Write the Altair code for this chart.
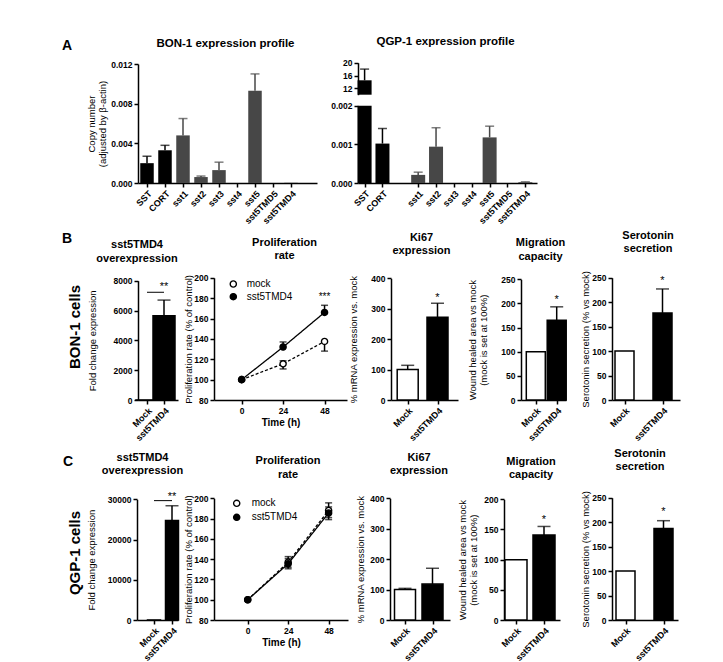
import altair as alt
import pandas as pd

# ------------------------------------------------------------------ data
A_CATS = ["SST", "CORT", "sst1", "sst2", "sst3", "sst4", "sst5", "sst5TMD5", "sst5TMD4"]
A_KIND = ["ligand", "ligand", "receptor", "receptor", "receptor", "receptor", "receptor", "receptor", "receptor"]
BON_MEAN = [0.0020, 0.0033, 0.0048, 0.0006, 0.0013, 0.0, 0.0093, 0.0, 0.00002]
BON_TOP = [0.0027, 0.0038, 0.0065, 0.0007, 0.0021, 0.0, 0.0110, 0.0, 0.00002]
QGP_MEAN = [14.5, 0.00102, 0.00021, 0.00094, 0.0, 0.0, 0.00118, 0.0, 0.00002]
QGP_TOP = [18.0, 0.00141, 0.00028, 0.00143, 0.0, 0.0, 0.00147, 0.0, 0.00003]
BON_TICKS = [0.0, 0.004, 0.008, 0.012]
QGP_TICKS_LOW = [0.0, 0.001, 0.002]
QGP_TICKS_HIGH = [12, 16, 20]

GROUPS = ["Mock", "sst5TMD4"]
B_OVER_MEAN, B_OVER_TOP = [1, 5650], [1, 6700]
C_OVER_MEAN, C_OVER_TOP = [1, 24700], [1, 28400]
B_KI67_MEAN, B_KI67_TOP = [100, 272], [114, 318]
C_KI67_MEAN, C_KI67_TOP = [100, 118], [104, 170]
B_MIG_MEAN, B_MIG_TOP = [100, 165], [100, 193]
C_MIG_MEAN, C_MIG_TOP = [100, 141], [100, 155]
B_SER_MEAN, B_SER_TOP = [100, 178], [100, 227]
C_SER_MEAN, C_SER_TOP = [100, 187], [100, 203]

TIME = [0, 24, 48]
SERIES = ["mock", "sst5TMD4"]
B_MOCK, B_MOCK_ELO, B_MOCK_EHI = [100, 115.5, 137.5], [0, 5, 9.5], [0, 3, 0]
B_TMD4, B_TMD4_ELO, B_TMD4_EHI = [100, 132, 166], [0, 0, 0], [0, 5, 7]
C_MOCK, C_MOCK_ELO, C_MOCK_EHI = [100, 137, 188], [0, 5, 7], [0, 5.5, 7.5]
C_TMD4, C_TMD4_ELO, C_TMD4_EHI = [100, 135.5, 185.5], [0, 5, 6.5], [0, 5, 6]

FONT = "Liberation Sans"
LW = 1.5
XLAB = 9
SERIES_FILL = ["white", "black"]


def point_scale(domain, W, c0, step):
    n = len(domain)
    pad = (W / step - (n - 1)) / 2
    align = c0 / (W - step * (n - 1))
    return alt.Scale(type="point", domain=domain, padding=pad, align=align)


def spacer(w, h, top_ext=0, bot_ext=1, texts=()):
    base = alt.Chart(pd.DataFrame({"k": [0]}))
    layers = [base.mark_rule(color="white", strokeWidth=1).encode(
        x=alt.value(0.5), y=alt.value(-top_ext), y2=alt.value(bot_ext))]
    for txt, x, y, size, angle, bl in texts:
        layers.append(base.mark_text(text=txt, fontSize=size, fontWeight="bold", angle=angle,
                                     align="center", baseline=bl, color="black", font=FONT)
                      .encode(x=alt.value(x), y=alt.value(y)))
    return alt.layer(*layers).properties(width=w, height=h)


def title_params(lines, dx, offset, size=11):
    return alt.TitleParams(text=lines, fontSize=size, fontWeight="bold", anchor="middle",
                           dx=dx, offset=offset, lineHeight=13.3, font=FONT, color="black")


def bar_panel(title, tdx, toff, means, tops, W, H, ytop, c0, step, bw, ydom, yvals,
              ytitle, tpad, star=None, bracket=None, yfmt="d", cap=13):
    df = pd.DataFrame({"g": GROUPS, "v": means, "e": tops})
    xs = point_scale(GROUPS, W, c0, step)
    xax = alt.Axis(title=None, labelAngle=-45, labelOverlap=False, labelFontSize=XLAB)
    ys = alt.Scale(domain=ydom, range=[H, ytop], nice=False, zero=True)
    yax = alt.Axis(values=yvals, title=ytitle, titlePadding=tpad, format=yfmt, labelOverlap=False)
    x = alt.X("g:N", scale=xs, axis=xax)
    base = alt.Chart(df)
    layers = [
        base.mark_bar(size=bw, stroke="black", strokeWidth=LW).encode(
            x=x, y=alt.Y("v:Q", scale=ys, axis=yax),
            fill=alt.Fill("g:N", scale=alt.Scale(domain=GROUPS, range=["white", "black"]), legend=None)),
        base.transform_filter("datum.e > datum.v").mark_rule(color="black", strokeWidth=LW).encode(
            x=x, y=alt.Y("v:Q", scale=ys, axis=yax), y2="e:Q"),
        base.transform_filter("datum.e > datum.v").mark_tick(color="black", size=cap, thickness=LW,
                                                               orient="horizontal").encode(
            x=x, y=alt.Y("e:Q", scale=ys, axis=yax)),
    ]
    if bracket is not None:
        bdf = pd.DataFrame({"g": [GROUPS[0]], "g2": [GROUPS[1]], "v": [bracket]})
        layers.append(alt.Chart(bdf).mark_rule(color="black", strokeWidth=1).encode(
            x=x, x2="g2:N", y=alt.Y("v:Q", scale=ys, axis=yax)))
    if star is not None:
        sdf = pd.DataFrame({"g": [GROUPS[1]], "v": [star[1]], "t": [star[0]]})
        layers.append(alt.Chart(sdf).mark_text(fontSize=11, color="black", baseline="middle", font=FONT).encode(
            x=x, y=alt.Y("v:Q", scale=ys, axis=yax), text="t:N"))
    return alt.layer(*layers).properties(width=W, height=H, title=title_params(title, tdx, toff))


def prolif_panel(title, tdx, toff, mock, mlo, mhi, tmd, tlo, thi, W, H, ytop, xdom, star_y,
                 leg, tpad):
    rows = []
    for s, mean, lo, hi in ((SERIES[0], mock, mlo, mhi), (SERIES[1], tmd, tlo, thi)):
        for t, m, a, b in zip(TIME, mean, lo, hi):
            rows.append({"t": t, "s": s, "d": s, "m": m, "lo": m - a, "hi": m + b})
    df = pd.DataFrame(rows)
    xs = alt.Scale(domain=xdom, nice=False, zero=False)
    xax = alt.Axis(values=TIME, title="Time (h)", titleFontWeight="bold", titleFontSize=10,
                   titlePadding=3, labelOverlap=False, labelFlush=False)
    ys = alt.Scale(domain=[80, 200], range=[H, ytop], nice=False, zero=False)
    yax = alt.Axis(values=list(range(80, 201, 20)), title="Proliferation rate (% of control)",
                   titlePadding=tpad, labelOverlap=False)
    x = alt.X("t:Q", scale=xs, axis=xax)
    base = alt.Chart(df)
    dash = alt.StrokeDash("d:N", scale=alt.Scale(domain=SERIES, range=[[3, 2], [1, 0]]), legend=None)
    layers = [
        base.mark_line(color="black", strokeWidth=1.3).encode(x=x, y=alt.Y("m:Q", scale=ys, axis=yax),
                                                              strokeDash=dash),
        base.transform_filter("datum.hi > datum.lo").mark_rule(color="black", strokeWidth=LW).encode(
            x=x, y=alt.Y("lo:Q", scale=ys, axis=yax), y2="hi:Q"),
        base.transform_filter("datum.hi > datum.m").mark_tick(color="black", size=7, thickness=LW,
                                                                orient="horizontal").encode(
            x=x, y=alt.Y("hi:Q", scale=ys, axis=yax)),
        base.transform_filter("datum.lo < datum.m").mark_tick(color="black", size=7, thickness=LW,
                                                                orient="horizontal").encode(
            x=x, y=alt.Y("lo:Q", scale=ys, axis=yax)),
        base.mark_point(shape="circle", filled=True, size=38, stroke="black", strokeWidth=1.4,
                        opacity=1).encode(
            x=x, y=alt.Y("m:Q", scale=ys, axis=yax),
            fill=alt.Fill("s:N", scale=alt.Scale(domain=SERIES, range=SERIES_FILL), legend=None)),
    ]
    if star_y is not None:
        sdf = pd.DataFrame({"t": [TIME[-1]], "v": [star_y], "txt": ["***"]})
        layers.append(alt.Chart(sdf).mark_text(fontSize=10, color="black", baseline="middle", font=FONT).encode(
            x=x, y=alt.Y("v:Q", scale=ys, axis=yax), text="txt:N"))
    # legend (symbol + label for each series)
    sx, sy0, dy, tx = leg
    lbase = alt.Chart(pd.DataFrame({"k": [0]}))
    for i, (name, col) in enumerate(zip(SERIES, SERIES_FILL)):
        layers.append(lbase.mark_point(shape="circle", filled=True, size=38, stroke="black",
                                       strokeWidth=1.4, fill=col, opacity=1).encode(
            x=alt.value(sx), y=alt.value(sy0 + i * dy)))
        layers.append(lbase.mark_text(text=name, fontSize=10, align="left", baseline="middle",
                                      color="black", font=FONT).encode(
            x=alt.value(tx), y=alt.value(sy0 + i * dy)))
    return alt.layer(*layers).properties(width=W, height=H, title=title_params(title, tdx, toff))


def row(*charts):
    return alt.hconcat(*charts, spacing=0, bounds="flush").resolve_scale(
        fill="independent", strokeDash="independent", color="independent")


# ------------------------------------------------------------------ row A
A_H = 121
bon_df = pd.DataFrame({"c": A_CATS, "k": A_KIND, "v": BON_MEAN, "e": BON_TOP})
kind_fill = alt.Color("k:N", scale=alt.Scale(domain=["ligand", "receptor"], range=["#000000", "#474747"]),
                      legend=None)
a_xax = alt.Axis(title=None, labelAngle=-45, labelOverlap=False, labelFontSize=XLAB)
bon_x = alt.X("c:N", scale=point_scale(A_CATS, 179, 9, 18), axis=a_xax)
bon_ys = alt.Scale(domain=[0, 0.012], range=[A_H, 2], nice=False)
bon_yax = alt.Axis(values=BON_TICKS, format=".3f", title=["Copy number", "(adjusted by β-actin)"],
                   titlePadding=3, titleLineHeight=11.6, labelOverlap=False)
bon_base = alt.Chart(bon_df)
bon = alt.layer(
    bon_base.mark_bar(size=13.5).encode(x=bon_x, y=alt.Y("v:Q", scale=bon_ys, axis=bon_yax), color=kind_fill),
    bon_base.transform_filter("datum.e > datum.v").mark_rule(strokeWidth=LW).encode(
        x=bon_x, y=alt.Y("v:Q", scale=bon_ys, axis=bon_yax), y2="e:Q", color=kind_fill),
    bon_base.transform_filter("datum.e > datum.v").mark_tick(size=9, thickness=LW, orient="horizontal").encode(
        x=bon_x, y=alt.Y("e:Q", scale=bon_ys, axis=bon_yax), color=kind_fill),
).properties(width=179, height=A_H,
             title=title_params("BON-1 expression profile", -2, 10.3, size=11.5))

QGP_DOMAIN = ["SST", "CORT", " "] + A_CATS[2:]
qgp_df = pd.DataFrame({"c": A_CATS, "k": A_KIND, "v": QGP_MEAN, "e": QGP_TOP})
qgp_x = alt.X("c:N", scale=point_scale(QGP_DOMAIN, 179, 6.6, 17.86),
              axis=alt.Axis(title=None, labelAngle=-45, labelOverlap=False, values=A_CATS,
                            labelFontSize=XLAB))
hi_ys = alt.Scale(domain=[10, 20], range=[32.7, 0.7], nice=False, zero=False, clamp=True)
hi_yax = alt.Axis(values=QGP_TICKS_HIGH, format="d", title=None, orient="left", labelOverlap=False)
lo_ys = alt.Scale(domain=[0, 0.002], range=[A_H, 43.7], nice=False, clamp=True)
lo_yax = alt.Axis(values=QGP_TICKS_LOW, format=".3f", title=None, orient="left", labelOverlap=False)
qgp_base = alt.Chart(qgp_df)
qgp_high = alt.layer(
    qgp_base.transform_filter("datum.v > 10").mark_bar(size=14).encode(
        x=qgp_x, y=alt.Y("v:Q", scale=hi_ys, axis=hi_yax), color=kind_fill),
    qgp_base.transform_filter("datum.v > 10").mark_rule(strokeWidth=LW).encode(
        x=qgp_x, y=alt.Y("v:Q", scale=hi_ys, axis=hi_yax), y2="e:Q", color=kind_fill),
    qgp_base.transform_filter("datum.v > 10").mark_tick(size=9, thickness=LW, orient="horizontal").encode(
        x=qgp_x, y=alt.Y("e:Q", scale=hi_ys, axis=hi_yax), color=kind_fill),
)
qgp_low = alt.layer(
    qgp_base.mark_bar(size=14).encode(x=qgp_x, y=alt.Y("v:Q", scale=lo_ys, axis=lo_yax), color=kind_fill),
    qgp_base.transform_filter("datum.e > datum.v && datum.e < 1").mark_rule(strokeWidth=LW).encode(
        x=qgp_x, y=alt.Y("v:Q", scale=lo_ys, axis=lo_yax), y2="e:Q", color=kind_fill),
    qgp_base.transform_filter("datum.e > datum.v && datum.e < 1").mark_tick(
        size=9, thickness=LW, orient="horizontal").encode(
        x=qgp_x, y=alt.Y("e:Q", scale=lo_ys, axis=lo_yax), color=kind_fill),
)
qgp = alt.layer(qgp_high, qgp_low).resolve_scale(y="independent").properties(
    width=179, height=A_H, title=title_params("QGP-1 expression profile", -2, 11.3, size=11.5))

ROW_A = row(
    spacer(130, A_H, 53, 166, [("A", 59, -12.3, 14, 0, "alphabetic")]),
    bon, spacer(41, A_H), qgp)

# ------------------------------------------------------------------ row B
H = 123
ROW_B = row(
    spacer(130, H, 46, 170, [("B", 59, -34, 14, 0, "alphabetic"), ("BON-1 cells", 67, 50, 15, 270, "middle")]),
    bar_panel(["sst5TMD4", "overexpression"], -21, 13, B_OVER_MEAN, B_OVER_TOP, 40, H, 3.7, 9, 17, 22,
              [0, 8000], [0, 2000, 4000, 6000, 8000], "Fold change expression", 16,
              star=("**", 7557), bracket=7224),
    spacer(36, H),
    prolif_panel(["Proliferation", "rate"], 4, 12.7, B_MOCK, B_MOCK_ELO, B_MOCK_EHI, B_TMD4, B_TMD4_ELO,
                 B_TMD4_EHI, 133, H, 0.8, [-16, 61], 181, (19.3, 7, 12.7, 32.7), 0),
    spacer(44, H),
    bar_panel(["Ki67", "expression"], -3, 18, B_KI67_MEAN, B_KI67_TOP, 67, H, 1.3, 16.7, 29.8, 21,
              [0, 400], [0, 100, 200, 300, 400], "% mRNA expression vs. mock", 12, star=("*", 334)),
    spacer(63, H),
    bar_panel(["Migration", "capacity"], -3, 13.7, B_MIG_MEAN, B_MIG_TOP, 45, H, 2.3, 14.8, 20.9, 19,
              [0, 250], [0, 50, 100, 150, 200, 250], ["Wound healed area vs mock", "(mock is set at 100%)"],
              12, star=("*", 207)),
    spacer(46, H),
    bar_panel(["Serotonin", "secretion"], 2, 16.4, B_SER_MEAN, B_SER_TOP, 68, H, 0.7, 12.5, 38, 19,
              [0, 250], [0, 50, 100, 150, 200, 250], "Serotonin secretion (% vs mock)", 1, star=("*", 244)),
    spacer(30, H))

# ------------------------------------------------------------------ row C
ROW_C = row(
    spacer(129, H, 45, 150, [("C", 60, -31, 14, 0, "alphabetic"), ("QGP-1 cells", 67, 56, 15, 270, "middle")]),
    bar_panel(["sst5TMD4", "overexpression"], -15, 14.7, C_OVER_MEAN, C_OVER_TOP, 41, H, 2.3, 17, 18, 13,
              [0, 30000], [0, 10000, 20000, 30000], "Fold change expression", 11,
              star=("**", 30659), bracket=29670),
    spacer(36, H),
    prolif_panel(["Proliferation", "rate"], 7, 14.7, C_MOCK, C_MOCK_ELO, C_MOCK_EHI, C_TMD4, C_TMD4_ELO,
                 C_TMD4_EHI, 134, H, 1.3, [-20, 59.5], None, (22.7, 6.3, 14, 37.7), 0),
    spacer(42, H),
    bar_panel(["Ki67", "expression"], -1, 18, C_KI67_MEAN, C_KI67_TOP, 60, H, 1.3, 15, 27.5, 21,
              [0, 400], [0, 100, 200, 300, 400], "% mRNA expression vs. mock", 4),
    spacer(54, H),
    bar_panel(["Migration", "capacity"], -1, 15.4, C_MIG_MEAN, C_MIG_TOP, 56, H, 2.3, 12, 28, 22,
              [0, 200], [0, 50, 100, 150, 200], ["Wound healed area vs mock", "(mock is set at 100%)"],
              5, star=("*", 166)),
    spacer(52, H),
    bar_panel(["Serotonin", "secretion"], -5, 18, C_SER_MEAN, C_SER_TOP, 66, H, 0.7, 13.5, 38, 19,
              [0, 250], [0, 50, 100, 150, 200, 250], "Serotonin secretion (% vs mock)", 1, star=("*", 220)),
    spacer(30, H))

chart = alt.vconcat(ROW_A, ROW_B, ROW_C, spacing=0).resolve_scale(
    fill="independent", strokeDash="independent", color="independent"
).properties(
    padding=0
).configure(font=FONT).configure_view(strokeWidth=0).configure_axis(
    domainColor="black", domainWidth=LW, tickColor="black", tickWidth=LW, tickSize=4,
    labelFont=FONT, labelFontSize=8.5, labelFontWeight="bold", labelColor="black", labelPadding=2,
    titleFont=FONT, titleFontSize=9.5, titleFontWeight="normal", titleColor="black", grid=False
)

chart.save("out.html", embed_options={"renderer": "svg", "actions": False})
